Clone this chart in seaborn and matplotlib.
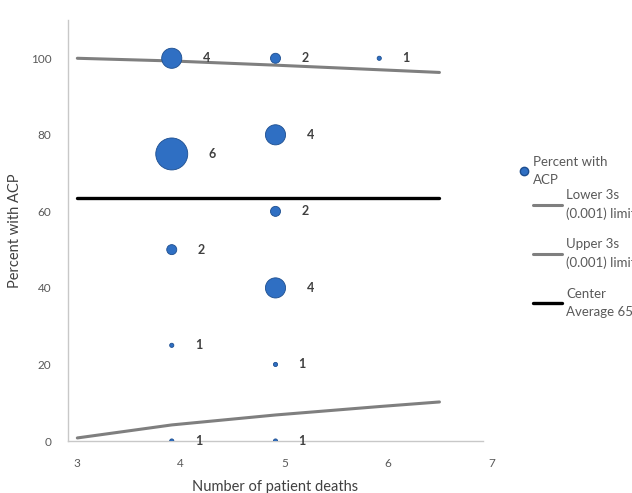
import numpy as np
import pandas as pd
import matplotlib
matplotlib.use("Agg")
import matplotlib.pyplot as plt
import matplotlib.transforms as mtransforms
import seaborn as sns
from matplotlib.lines import Line2D

# bubble data: deaths per unit, % with ACP, number of units (bubble size)
deaths = [4, 5, 6, 4, 5, 5, 4, 5, 4, 5, 4, 5]
pct_acp = [100, 100, 100, 75, 80, 60, 50, 40, 25, 20, 0, 0]
n_units = [4, 2, 1, 6, 4, 2, 2, 4, 1, 1, 1, 1]

# control limits
limit_x = [3.09, 4, 5, 6, 6.58]
lower_3s = [0.8, 4.2, 6.8, 9.0, 10.2]
upper_3s = [100, 99.3, 98.2, 97.0, 96.3]
center_avg = 63.6

legend_labels = ["Percent with\nACP", "Lower 3s\n(0.001) limit",
                 "Upper 3s\n(0.001) limit", "Center\nAverage 65%"]

df = pd.DataFrame({"deaths": deaths, "pct": pct_acp, "n": n_units})
lim = pd.DataFrame({"x": limit_x, "lower": lower_3s, "upper": upper_3s,
                    "center": [center_avg] * len(limit_x)})

sns.set_style("white")
plt.rcParams["font.family"] = ["Lato", "DejaVu Sans"]

blue = "#2f6fc3"
grey_line = "#7f7f7f"
txt = "#595959"
bubble_sizes = {1: 9, 2: 52, 4: 210, 6: 530}

fig = plt.figure(figsize=(6.32, 4.93), dpi=100)
ax = fig.add_axes([68 / 632, 1 - 441 / 493, (483 - 68) / 632, (441 - 20) / 493])

sns.lineplot(data=lim, x="x", y="upper", ax=ax, color=grey_line, lw=2.2)
sns.lineplot(data=lim, x="x", y="lower", ax=ax, color=grey_line, lw=2.2)
sns.lineplot(data=lim, x="x", y="center", ax=ax, color="black", lw=2.4)
sns.scatterplot(data=df, x="deaths", y="pct", size="n", sizes=bubble_sizes,
                color=blue, edgecolor="#1d4e8f", linewidth=0.6, ax=ax,
                legend=False, zorder=3)

for _, r in df.iterrows():
    off = np.sqrt(bubble_sizes[r["n"]]) / 2 + 15
    ax.annotate(str(int(r["n"])), (r["deaths"], r["pct"]), xytext=(off, 0),
                textcoords="offset points", va="center", ha="left",
                fontsize=9, fontweight="bold", color="#404040")

ax.set_xlim(3, 7)
ax.set_ylim(0, 110)
ax.set_xticks([3, 4, 5, 6, 7])
ax.set_yticks([0, 20, 40, 60, 80, 100])
sns.despine(ax=ax)
for s in ["left", "bottom"]:
    ax.spines[s].set_color("#c8c8c8")
    ax.spines[s].set_linewidth(1.0)
ax.tick_params(axis="both", length=4, width=1, color="#c8c8c8",
               labelcolor=txt, labelsize=8.5, pad=8)
# Excel-style: x tick labels sit a little right of their ticks
shift = mtransforms.ScaledTranslation(0.09, 0, fig.dpi_scale_trans)
for lbl in ax.get_xticklabels():
    lbl.set_transform(lbl.get_transform() + shift)
ax.set_xlabel("Number of patient deaths", fontsize=10.5, color="#404040", labelpad=8)
ax.set_ylabel("Percent with ACP", fontsize=10.5, color="#404040", labelpad=6)

# legend: marker entry and line entries laid out like the Excel legend
h_marker = [Line2D([], [], ls="", marker="o", ms=6, color=blue, mec="#1d4e8f")]
h_lines = [
    Line2D([], [], color=grey_line, lw=2.2),
    Line2D([], [], color=grey_line, lw=2.2),
    Line2D([], [], color="black", lw=2.4),
]
leg1 = fig.legend(h_marker, legend_labels[:1], loc="upper left",
                  bbox_to_anchor=(520 / 632, 1 - 156 / 493), frameon=False,
                  fontsize=9.5, handlelength=0.6, handletextpad=0.35,
                  borderaxespad=0, borderpad=0)
leg2 = fig.legend(h_lines, legend_labels[1:], loc="upper left",
                  bbox_to_anchor=(533 / 632, 1 - 189 / 493), frameon=False,
                  fontsize=9.5, handlelength=2.2, handletextpad=0.3,
                  labelspacing=1.4, borderaxespad=0, borderpad=0)
for leg in (leg1, leg2):
    for t in leg.get_texts():
        t.set_color(txt)
        t.set_linespacing(1.6)

fig.savefig("out.png", dpi=100)
